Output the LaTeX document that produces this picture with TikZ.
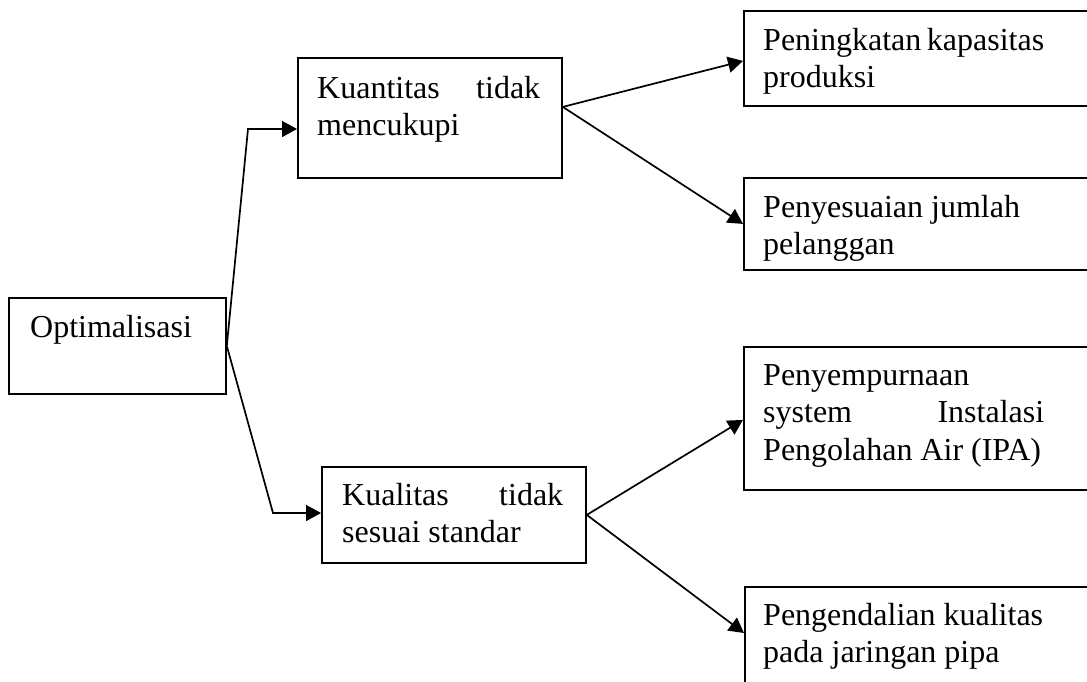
\documentclass[tikz,border=0pt]{standalone}
\usepackage{fontspec}
\setmainfont{Liberation Serif}
\usetikzlibrary{arrows.meta}

\begin{document}
\begin{tikzpicture}[x=1pt,y=-1pt,
  box/.style={draw,line width=1.8pt,rectangle,inner sep=0pt,anchor=north west},
  label/.style={anchor=base west,inner sep=0pt,align=justify,
    font=\fontsize{32}{37.5}\selectfont},
  link/.style={line width=1.7pt,-{Triangle[length=15pt,width=16pt]}}]
  \useasboundingbox (0,0) rectangle (1087,681);
  \clip (0,0) rectangle (1087,681);

  % boxes
  \node[box,minimum width=217pt,minimum height=96pt]  (opt)  at (8,297)   {};
  \node[box,minimum width=264pt,minimum height=120pt] (kuan) at (297,57)  {};
  \node[box,minimum width=264pt,minimum height=96pt]  (kual) at (321,466) {};
  \node[box,minimum width=360pt,minimum height=95pt]  (r1)   at (743,10)  {};
  \node[box,minimum width=360pt,minimum height=92pt]  (r2)   at (743,177) {};
  \node[box,minimum width=360pt,minimum height=143pt] (r3)   at (743,346) {};
  \node[box,minimum width=360pt,minimum height=120pt] (r4)   at (744,586) {};

  % texts
  \node[label] (topt)  at (30,337)  {Optimalisasi};
  \node[label,text width=223pt] (tkuan) at (317,98)
    {Kuantitas\hfill tidak\\mencukupi};
  \node[label,text width=221pt] (tkual) at (342,505)
    {Kualitas\hfill tidak\\sesuai standar};
  \node[label,text width=281pt] (tr1) at (763,50)
    {Peningkatan\hfill kapasitas\\produksi};
  \node[label,text width=281pt] (tr2) at (763,217)
    {Penyesuaian jumlah\\pelanggan};
  \node[label,text width=281pt] (tr3) at (763,385)
    {Penyempurnaan\\system\hfill Instalasi\\Pengolahan Air (IPA)};
  \node[label,text width=281pt] (tr4) at (763,625)
    {Pengendalian kualitas\\pada jaringan pipa};

  % connectors
  \coordinate (b1) at (248,129);
  \coordinate (b2) at (273,513);
  \draw[link] (opt.east) -- (b1) -- (b1 -| kuan.west);
  \draw[link] (opt.east) -- (b2) -- (b2 -| kual.west);

  \coordinate (k1) at ([yshift=11pt]kuan.east);
  \draw[link] (k1) -- ([yshift=-2.5pt]r1.west);
  \draw[link] (k1) -- (r2.west);

  \draw[link] (kual.east) -- ([yshift=-1.5pt]r3.west);
  \draw[link] (kual.east) -- ([yshift=-47pt]r4.north west);
\end{tikzpicture}
\end{document}
